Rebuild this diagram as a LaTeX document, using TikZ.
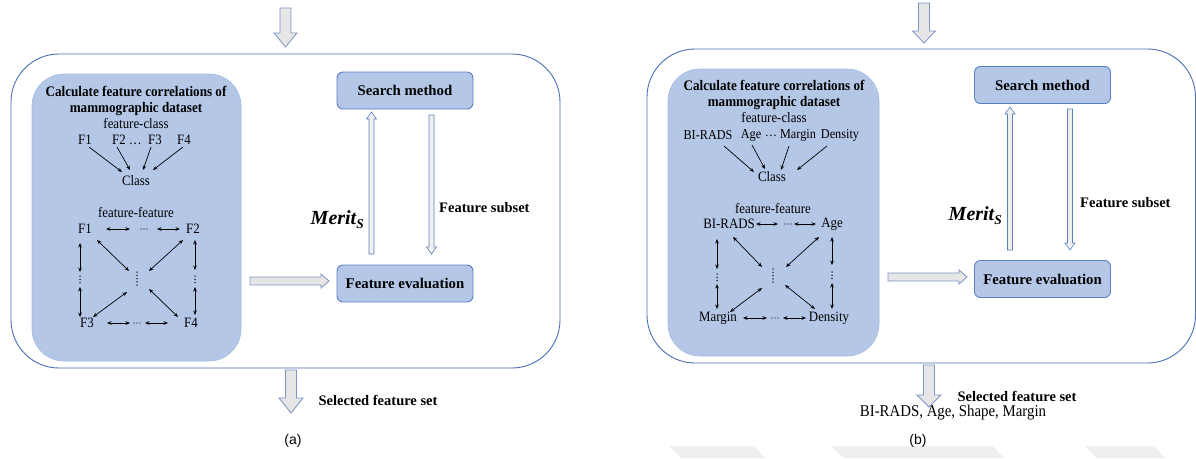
\documentclass[tikz,border=0pt]{standalone}
\usepackage{fontspec}
\setmainfont{Liberation Serif}
\newfontfamily\narrowserif{Liberation Serif}[FakeStretch=0.9]
\newfontfamily\arialf{Liberation Sans}
\usetikzlibrary{arrows.meta}
\definecolor{boxfill}{HTML}{B4C7E7}
\definecolor{boxline}{HTML}{5A7FC0}
\definecolor{innerline}{HTML}{A3BBE3}
\definecolor{outerline}{HTML}{4A6FB5}
\definecolor{blkfill}{HTML}{E6E6E6}
\definecolor{blkline}{HTML}{7C95C4}
\definecolor{wmark}{HTML}{EFEFEF}
\tikzset{
  outerbox/.style={draw=outerline, line width=0.9pt, rounded corners=48pt},
  innerbox/.style={draw=innerline, fill=boxfill, line width=0.6pt, rounded corners=32pt},
  stepbox/.style={draw=boxline, fill=boxfill, line width=0.9pt, rounded corners=6pt,
     minimum width=136pt, minimum height=37pt, inner sep=0pt,
     font=\fontsize{14.8}{17}\selectfont\bfseries},
  lbl/.style={inner sep=0pt, font=\narrowserif\fontsize{14.3}{16}\selectfont},
  rowlbl/.style={inner sep=0pt, font=\narrowserif\fontsize{13.6}{16}\selectfont},
  ttl/.style={inner sep=0pt, align=center, font=\narrowserif\fontsize{14.6}{16}\selectfont\bfseries},
  blab/.style={inner sep=0pt, font=\fontsize{14.5}{17}\selectfont\bfseries},
  merit/.style={inner sep=0pt, font=\fontsize{20}{22}\selectfont\bfseries\itshape},
  blk/.style={draw=blkline, fill=blkfill, line width=0.8pt},
  thinarr/.style={draw=boxline, fill=blkfill!60!white, line width=0.6pt},
  ca/.style={line width=0.7pt, {Stealth[length=4.5pt,width=3.6pt]}-{Stealth[length=4.5pt,width=3.6pt]}},
  sa/.style={line width=0.7pt, -{Stealth[length=4.5pt,width=3.6pt]}},
  vdot/.style={line width=1.5pt, line cap=round, dash pattern=on 0pt off 3.3pt},
  hdot/.style={line width=1.4pt, line cap=round, dash pattern=on 0pt off 3pt},
}
% vertical block arrow: style, x, y tail, y tip, shaft half width, head half width, head length (signed)
\newcommand\varr[7]{%
  \draw[#1] ({#2-#5},#3) -- ({#2+#5},#3) -- ({#2+#5},{#4-(#7)}) -- ({#2+#6},{#4-(#7)})
    -- (#2,#4) -- ({#2-#6},{#4-(#7)}) -- ({#2-#5},{#4-(#7)}) -- cycle;}
% horizontal block arrow: style, y, x tail, x tip, shaft half height, head half height, head length
\newcommand\harr[7]{%
  \draw[#1] (#3,{#2-#5}) -- ({#4-(#7)},{#2-#5}) -- ({#4-(#7)},{#2-#6}) -- (#4,#2)
    -- ({#4-(#7)},{#2+#6}) -- ({#4-(#7)},{#2+#5}) -- (#3,{#2+#5}) -- cycle;}
\begin{document}
\begin{tikzpicture}[x=1pt, y=-1pt]
\useasboundingbox (0,0) rectangle (1196,458);
\fill[white] (0,0) rectangle (1196,458);
% watermark shapes
\fill[wmark] (669,446) -- (754,446) -- (765,458) -- (681,458) -- cycle;
\fill[wmark] (831,446) -- (992,446) -- (1004,458) -- (844,458) -- cycle;
\fill[wmark] (1085,446) -- (1154,446) -- (1165,458) -- (1096,458) -- cycle;

%================ panel (a) ================
\draw[outerbox] (11,54) rectangle (560,368);
\draw[innerbox] (32,74) rectangle (241,361);
\varr{blk}{285.5}{8}{47}{5.5}{11.5}{14}
\varr{blk}{291}{370}{413}{5.5}{12}{15}
\harr{blk}{281}{250}{329}{4}{7}{8}

\node[stepbox] (asm) at (405,90.5) {Search method};
\node[stepbox] (afe) at (405,283.5) {Feature evaluation};
\varr{thinarr}{371.5}{254}{112}{2.5}{5}{-7}
\varr{thinarr}{431.5}{115}{254}{2.5}{5}{7}
\node[merit, anchor=east] (amerit) at (364,220) {Merit\raisebox{-0.45ex}{\fontsize{13.5}{15}\selectfont S}};
\node[blab, anchor=west] (asub) at (439,208) {Feature subset};
\node[blab] (asel) at (378,400) {Selected feature set};
\node[inner sep=0pt, font=\arialf\fontsize{14}{16}\selectfont] (alab) at (293,441) {(a)};

\node[ttl] (attl) at (136,101) {Calculate feature correlations of\\mammographic dataset};
\node[lbl] (afc) at (136,124) {feature-class};
\node[lbl] (af1) at (85,140) {F1};
\node[lbl] (af2) at (127,140) {F2 \dots};
\node[lbl] (af3) at (155,140) {F3};
\node[lbl] (af4) at (184,140) {F4};
\node[lbl] (acls) at (136,181) {Class};
\draw[sa] (89,147) -- (122,172);
\draw[sa] (117,147) -- (130,170);
\draw[sa] (151,147) -- (143,170);
\draw[sa] (183,147) -- (153,170);

\node[lbl] (aff) at (136,213) {feature-feature};
\node[lbl] (bf1) at (85,229) {F1};
\node[lbl] (bf2) at (193,229) {F2};
\node[lbl] (bf3) at (87,323) {F3};
\node[lbl] (bf4) at (191,323) {F4};
\draw[ca] (106,229) -- (130,229);
\draw[hdot] (141,229) -- (148,229);
\draw[ca] (157,229) -- (180,229);
\draw[ca] (107,323) -- (130,323);
\draw[hdot] (134,323) -- (141,323);
\draw[ca] (145,323) -- (168,323);
\draw[ca] (80,243) -- (80,272);
\draw[vdot] (80,276) -- (80,284);
\draw[ca] (80,287) -- (80,317);
\draw[ca] (195,240) -- (195,270);
\draw[vdot] (195,276) -- (195,284);
\draw[ca] (195,287) -- (195,315);
\draw[vdot] (137,272) -- (137,288);
\draw[ca] (97,240) -- (129,271);
\draw[ca] (183,240) -- (149,271);
\draw[ca] (93,317) -- (127,292);
\draw[ca] (178,317) -- (149,289);

%================ panel (b) ================
\draw[outerbox] (647,49) rectangle (1195.5,363);
\draw[innerbox] (668,69) rectangle (879,356);
\varr{blk}{924}{3}{43}{5.5}{11.5}{12}
\varr{blk}{929}{365}{407}{5.5}{12}{12}
\harr{blk}{277}{888}{967}{4}{7}{8}

\node[stepbox] (bsm) at (1042.5,85) {Search method};
\node[stepbox] (bfe) at (1042.5,279) {Feature evaluation};
\varr{thinarr}{1010}{250}{107}{2.5}{5}{-7}
\varr{thinarr}{1070}{109}{250}{2.5}{5}{7}
\node[merit, anchor=east] (bmerit) at (1002,216) {Merit\raisebox{-0.45ex}{\fontsize{13.5}{15}\selectfont S}};
\node[blab, anchor=west] (bsub) at (1080,203) {Feature subset};
\node[blab] (bsel) at (1017,396) {Selected feature set};
\node[inner sep=0pt, font=\narrowserif\fontsize{16.5}{18}\selectfont] (blist) at (953,413) {BI-RADS, Age, Shape, Margin};
\node[inner sep=0pt, font=\arialf\fontsize{14}{16}\selectfont] (blab) at (918,441) {(b)};

\node[ttl] (bttl) at (774,95) {Calculate feature correlations of\\mammographic dataset};
\node[lbl] (bfc) at (774,118) {feature-class};
\node[rowlbl] (cbi) at (708,135.5) {BI-RADS};
\node[rowlbl] (cage) at (751,135.5) {Age};
\node[rowlbl] (cdots) at (771,135.5) {\dots};
\node[rowlbl] (cmar) at (798,135.5) {Margin};
\node[rowlbl] (cden) at (840,135.5) {Density};
\node[lbl] (bcls) at (772,177) {Class};
\draw[sa] (724,146) -- (754,172);
\draw[sa] (752,145) -- (765,169);
\draw[sa] (789,146) -- (781,170);
\draw[sa] (827,146) -- (797,170);

\node[lbl] (bff) at (773,209) {feature-feature};
\node[lbl] (dbi) at (729,224) {BI-RADS};
\node[lbl] (dage) at (832,224) {Age};
\node[lbl] (dmar) at (718,318) {Margin};
\node[lbl] (dden) at (829,318) {Density};
\draw[ca] (743,318) -- (767,318);
\draw[hdot] (772,318) -- (779,318);
\draw[ca] (783,318) -- (806,318);
\draw[ca] (756,224) -- (778,224);
\draw[hdot] (785,224) -- (792,224);
\draw[ca] (794,224) -- (816,224);
\draw[ca] (717,239) -- (717,269);
\draw[vdot] (717,274) -- (717,282);
\draw[ca] (717,284) -- (717,309);
\draw[ca] (832,237) -- (832,265);
\draw[vdot] (832,272) -- (832,280);
\draw[ca] (832,283) -- (832,309);
\draw[vdot] (773,269) -- (773,285);
\draw[ca] (733,237) -- (762,267);
\draw[ca] (819,237) -- (786,267);
\draw[ca] (730,312) -- (762,288);
\draw[ca] (815,309) -- (785,285);
\end{tikzpicture}
\end{document}
